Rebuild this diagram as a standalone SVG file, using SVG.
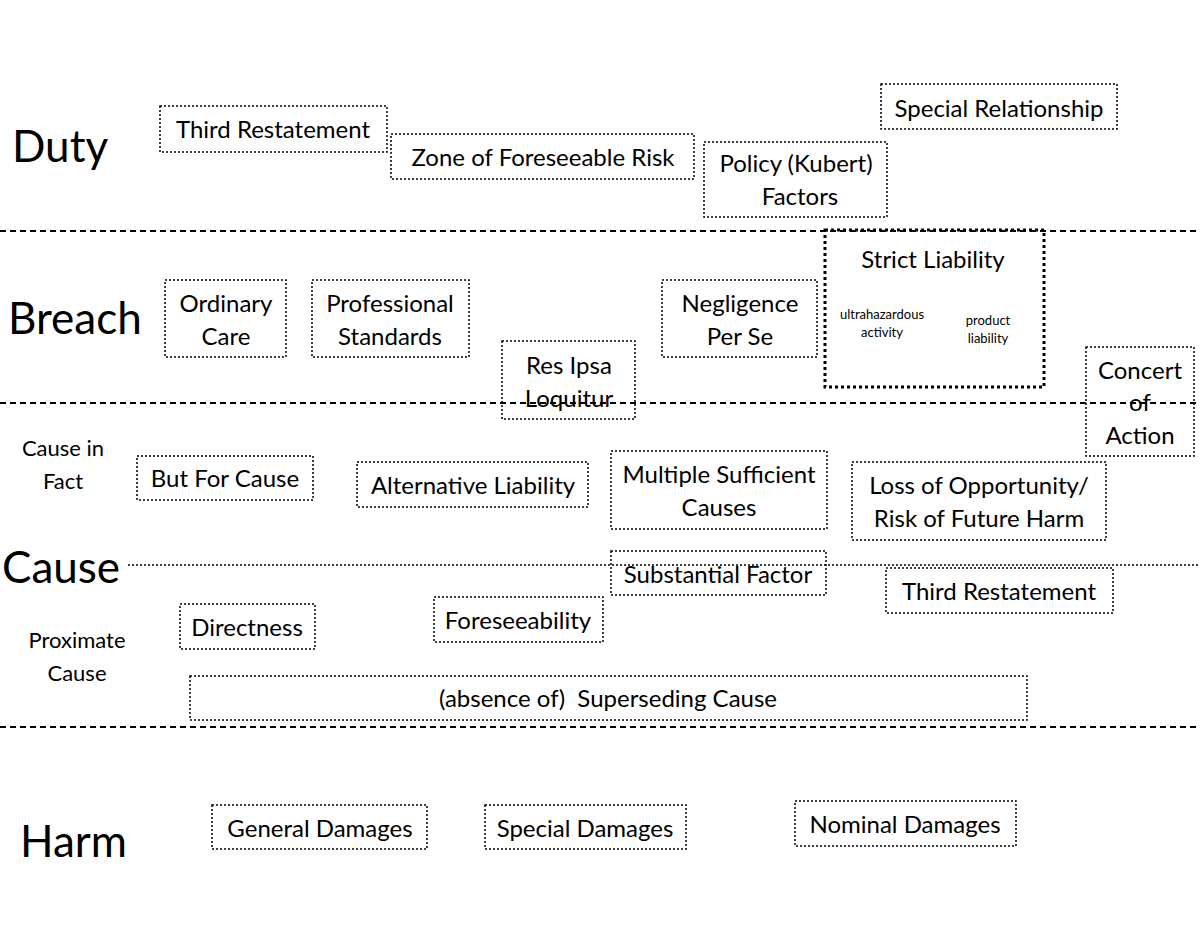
<svg xmlns="http://www.w3.org/2000/svg" width="1200" height="927" viewBox="0 0 1200 927">
<style>
text{font-family:Lato,"Open Sans",sans-serif;fill:#000}
.b{fill:none;stroke:#000;stroke-width:1.5;stroke-dasharray:2 2}
.bt{fill:none;stroke:#000;stroke-width:3;stroke-dasharray:3 3}
.t{font-size:24px;text-anchor:middle}
.h{font-size:44px}
.s{font-size:22px;text-anchor:middle}
.x{font-size:13px;text-anchor:middle}
.l{stroke:#000;stroke-width:2;stroke-dasharray:6 4}
</style>
<rect width="1200" height="927" fill="#fff"/>
<g id="connectors">
<line class="l" x1="0" y1="231" x2="1200" y2="231"/>
<line class="l" x1="0" y1="403" x2="1200" y2="403"/>
<line x1="128" y1="565" x2="1200" y2="565" stroke="#000" stroke-width="1.5" stroke-dasharray="2 2"/>
<line class="l" x1="0" y1="727" x2="1200" y2="727"/>
</g>
<g id="labels">
<text class="h" x="12" y="162">Duty</text>
<text class="h" x="8" y="334">Breach</text>
<text class="s" x="63" y="456">Cause in</text>
<text class="s" x="63" y="489">Fact</text>
<text class="h" x="2" y="583">Cause</text>
<text class="s" x="77" y="648">Proximate</text>
<text class="s" x="77" y="681">Cause</text>
<text class="h" x="20" y="857">Harm</text>
</g>
<g id="n1"><rect class="b" x="160" y="106" width="227" height="46"/><text class="t" x="273" y="138">Third Restatement</text></g>
<g id="n2"><rect class="b" x="391" y="134" width="303" height="45"/><text class="t" x="543" y="166">Zone of Foreseeable Risk</text></g>
<g id="n3"><rect class="b" x="704" y="142" width="183" height="75"/><text class="t" x="796" y="172">Policy (Kubert)</text><text class="t" x="800" y="205">Factors</text></g>
<g id="n4"><rect class="b" x="881" y="84" width="236" height="45"/><text class="t" x="999" y="117">Special Relationship</text></g>
<g id="n5"><rect class="b" x="165" y="280" width="121" height="77"/><text class="t" x="226" y="312">Ordinary</text><text class="t" x="226" y="345">Care</text></g>
<g id="n6"><rect class="b" x="312" y="280" width="157" height="77"/><text class="t" x="390" y="312">Professional</text><text class="t" x="390" y="345">Standards</text></g>
<g id="n7"><rect class="b" x="502" y="341" width="133" height="78"/><text class="t" x="569" y="374">Res Ipsa</text><text class="t" x="569" y="407">Loquitur</text></g>
<g id="n8"><rect class="b" x="662" y="280" width="155" height="77"/><text class="t" x="740" y="312">Negligence</text><text class="t" x="740" y="345">Per Se</text></g>
<g id="n9"><rect class="bt" x="825" y="230" width="219" height="157"/><text class="t" x="933" y="268">Strict Liability</text><text class="x" x="882" y="319">ultrahazardous</text><text class="x" x="882" y="337">activity</text><text class="x" x="988" y="325">product</text><text class="x" x="988" y="343">liability</text></g>
<g id="n10"><rect class="b" x="1086" y="347" width="108" height="109"/><text class="t" x="1140" y="379">Concert</text><text class="t" x="1140" y="411">of</text><text class="t" x="1140" y="444">Action</text></g>
<g id="n11"><rect class="b" x="137" y="456" width="176" height="44"/><text class="t" x="225" y="487">But For Cause</text></g>
<g id="n12"><rect class="b" x="357" y="462" width="231" height="45"/><text class="t" x="473" y="494">Alternative Liability</text></g>
<g id="n13"><rect class="b" x="611" y="451" width="216" height="78"/><text class="t" x="719" y="483">Multiple Sufficient</text><text class="t" x="719" y="516">Causes</text></g>
<g id="n14"><rect class="b" x="852" y="462" width="254" height="78"/><text class="t" x="979" y="494">Loss of Opportunity/</text><text class="t" x="979" y="527">Risk of Future Harm</text></g>
<g id="n15"><rect class="b" x="611" y="551" width="215" height="44"/><text class="t" x="718" y="583">Substantial Factor</text></g>
<g id="n16"><rect class="b" x="886" y="568" width="227" height="45"/><text class="t" x="999" y="600">Third Restatement</text></g>
<g id="n17"><rect class="b" x="180" y="604" width="135" height="45"/><text class="t" x="247" y="636">Directness</text></g>
<g id="n18"><rect class="b" x="434" y="597" width="169" height="45"/><text class="t" x="518" y="629">Foreseeability</text></g>
<g id="n19"><rect class="b" x="190" y="676" width="837" height="44"/><text class="t" x="608" y="707" xml:space="preserve">(absence of)  Superseding Cause</text></g>
<g id="n20"><rect class="b" x="212" y="805" width="215" height="44"/><text class="t" x="320" y="837">General Damages</text></g>
<g id="n21"><rect class="b" x="485" y="805" width="201" height="44"/><text class="t" x="585" y="837">Special Damages</text></g>
<g id="n22"><rect class="b" x="795" y="801" width="221" height="45"/><text class="t" x="905" y="833">Nominal Damages</text></g>
</svg>
